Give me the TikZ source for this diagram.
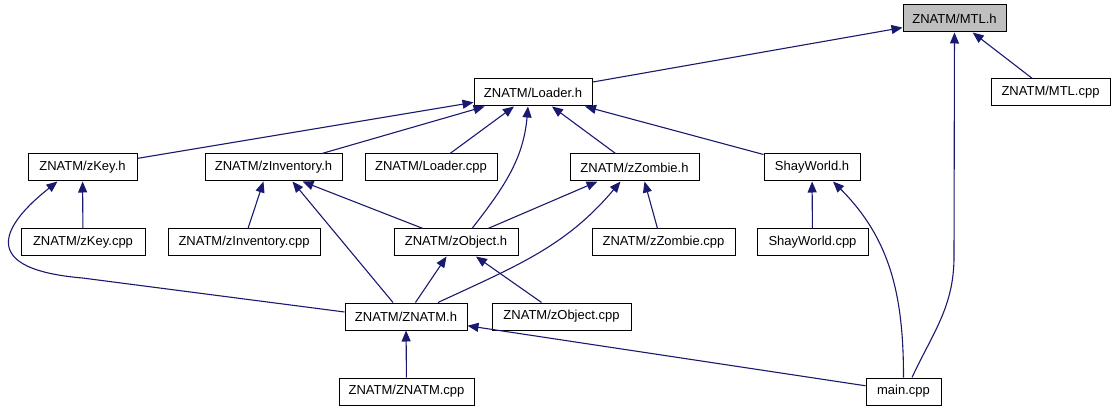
\documentclass[tikz,border=0pt]{standalone}
\usepackage{fontspec}
\setmainfont{Liberation Sans}
\usepackage{tikz}
\usetikzlibrary{arrows.meta}
\definecolor{edgeblue}{HTML}{191970}
\definecolor{hdrgrey}{HTML}{BFBFBF}
\tikzset{
  file/.style={draw,line width=1pt,minimum height=27pt,inner sep=0pt,font=\fontsize{13pt}{15pt}\selectfont},
  cur/.style={file,fill=hdrgrey},
  inc/.style={-{Triangle[length=11pt,width=9pt,fill=edgeblue]},draw=edgeblue,line width=1.1pt}
}
\begin{document}
\begin{tikzpicture}[x=1pt,y=1pt]
\useasboundingbox (0,0) rectangle (1115,-411);
\node[cur, minimum width=103pt] (mtl) at (954.5,-18.5) {ZNATM/MTL.h};
\node[file, minimum width=119pt] (mtlcpp) at (1050.5,-92.5) {ZNATM/MTL.cpp};
\node[file, minimum width=118pt] (loader) at (533,-92.5) {ZNATM/Loader.h};
\node[file, minimum width=109pt] (zkey) at (82.5,-167.5) {ZNATM/zKey.h};
\node[file, minimum width=137pt] (zinv) at (273.5,-167.5) {ZNATM/zInventory.h};
\node[file, minimum width=132pt] (loadercpp) at (431,-167.5) {ZNATM/Loader.cpp};
\node[file, minimum width=129pt] (zzombie) at (634.5,-167.5) {ZNATM/zZombie.h};
\node[file, minimum width=96pt] (shay) at (812,-167.5) {ShayWorld.h};
\node[file, minimum width=124pt] (zkeycpp) at (83,-242.5) {ZNATM/zKey.cpp};
\node[file, minimum width=152pt] (zinvcpp) at (244,-242.5) {ZNATM/zInventory.cpp};
\node[file, minimum width=124pt] (zobj) at (456,-242.5) {ZNATM/zObject.h};
\node[file, minimum width=143pt] (zzombiecpp) at (663.5,-242.5) {ZNATM/zZombie.cpp};
\node[file, minimum width=111pt] (shaycpp) at (812.5,-242.5) {ShayWorld.cpp};
\node[file, minimum width=122pt] (znatm) at (406,-316.5) {ZNATM/ZNATM.h};
\node[file, minimum width=139pt] (zobjcpp) at (561.5,-316.5) {ZNATM/zObject.cpp};
\node[file, minimum width=135pt] (znatmcpp) at (406.5,-391.5) {ZNATM/ZNATM.cpp};
\node[file, minimum width=75pt] (main) at (903.5,-391.5) {main.cpp};

\draw[inc] (loader) -- (mtl);
\draw[inc] (mtlcpp) -- (mtl);
\draw[inc] ([xshift=8.5pt]main.north) to[out=65,in=-90] ++(42,121) -- (mtl);

\draw[inc] (zkey) -- (loader);
\draw[inc] (zinv) -- (loader);
\draw[inc] (loadercpp) -- (loader);
\draw[inc] (zzombie) -- (loader);
\draw[inc] (shay) -- (loader);
\draw[inc] ([xshift=16pt]zobj.north) to[out=52,in=-95] ([xshift=-5pt]loader.south);

\draw[inc] (zkeycpp) -- (zkey);
\draw[inc] ([yshift=4.5pt]znatm.west) -- ++(-262,34) .. controls +(-118,10) and +(-43,-34) .. ([xshift=-25pt]zkey.south);

\draw[inc] ([xshift=4pt]zinvcpp.north) -- ([xshift=-10pt]zinv.south);
\draw[inc] ([xshift=-13pt]znatm.north) -- ([xshift=19pt]zinv.south);
\draw[inc] ([xshift=-33pt]zobj.north) -- ([xshift=29pt]zinv.south);

\draw[inc] ([xshift=32pt]zobj.north) -- ([xshift=-37pt]zzombie.south);
\draw[inc] ([xshift=32pt]znatm.north) to[out=25,in=-130] ([xshift=-14pt]zzombie.south);
\draw[inc] ([xshift=-6pt]zzombiecpp.north) -- ([xshift=10pt]zzombie.south);

\draw[inc] (shaycpp) -- (shay);
\draw[inc] (main.north) to[out=90,in=-45] ([xshift=21pt]shay.south);

\draw[inc] (znatm) -- (zobj);
\draw[inc] (zobjcpp) -- (zobj);
\draw[inc] (znatmcpp) -- (znatm);
\draw[inc] (main) -- (znatm);
\end{tikzpicture}
\end{document}
